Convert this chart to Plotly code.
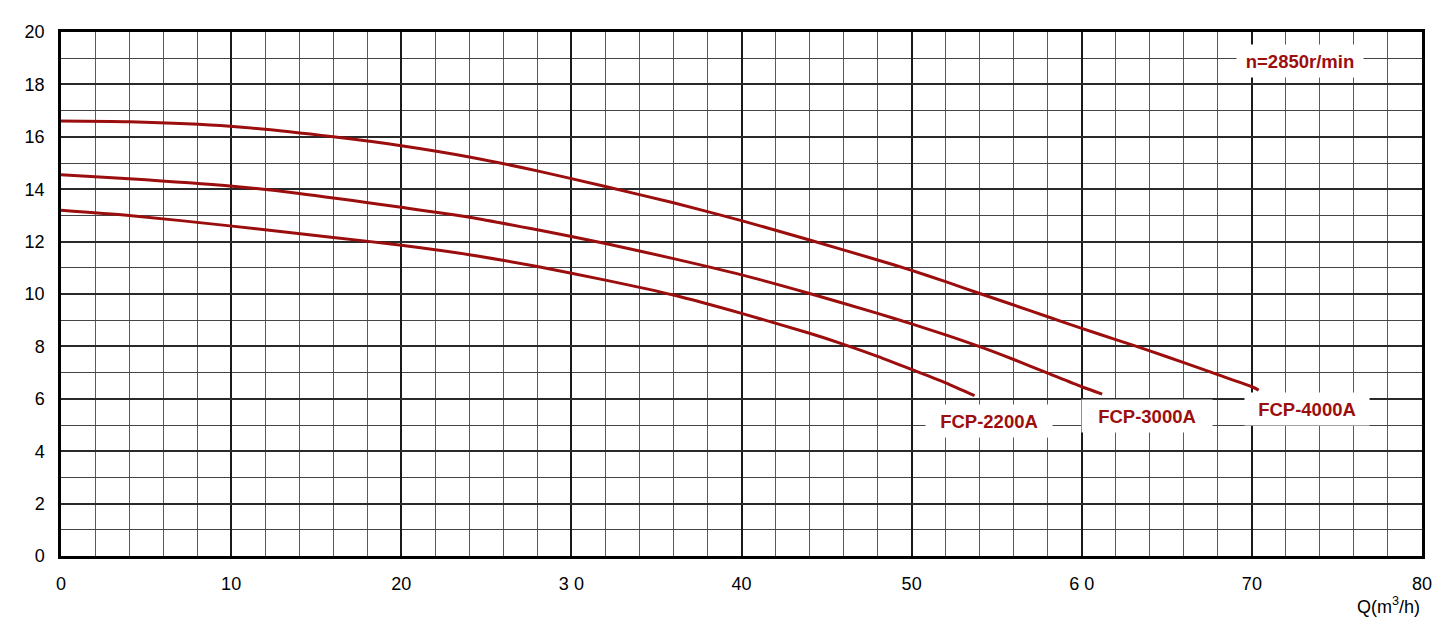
import plotly.graph_objects as go

# Flow Q (m3/h) and head H (m)
q_2200 = [0, 4, 9.93, 16, 20, 24, 28, 32, 36, 40, 44, 46, 48, 50, 52, 53.7]
h_2200 = [13.2, 13.0, 12.6, 12.16, 11.86, 11.5, 11.05, 10.53, 9.96, 9.26, 8.5, 8.08, 7.62, 7.12, 6.61, 6.12]

q_3000 = [0, 4, 9.93, 14, 20, 24, 28, 32, 36, 40, 44, 48, 50, 52, 54, 56, 58, 60, 61.2]
h_3000 = [14.55, 14.4, 14.12, 13.84, 13.31, 12.93, 12.45, 11.93, 11.35, 10.73, 10.02, 9.26, 8.86, 8.44, 7.99, 7.5, 6.98, 6.46, 6.18]

q_4000 = [0, 4, 9.93, 16, 20, 24, 28, 32, 36, 40, 44, 48, 50, 52, 54, 56, 58, 60, 62, 64, 66, 68, 70, 70.4]
h_4000 = [16.6, 16.57, 16.4, 16.0, 15.66, 15.23, 14.7, 14.1, 13.48, 12.8, 12.06, 11.3, 10.9, 10.47, 10.02, 9.58, 9.13, 8.69, 8.26, 7.83, 7.38, 6.92, 6.46, 6.33]

series_names = ["FCP-2200A", "FCP-3000A", "FCP-4000A"]

x_ticks = [0, 10, 20, 30, 40, 50, 60, 70, 80]
x_tick_text = ["0", "10", "20", "3 0", "40", "50", "6 0", "70", "80"]
y_ticks = [0, 2, 4, 6, 8, 10, 12, 14, 16, 18, 20]

RED = "#9c0e0e"
fig = go.Figure()
for q, h, name in zip([q_2200, q_3000, q_4000], [h_2200, h_3000, h_4000], series_names):
    fig.add_trace(go.Scatter(x=q, y=h, mode="lines", name=name,
                             line=dict(color=RED, width=3, shape="spline", smoothing=0.7),
                             showlegend=False, hoverinfo="skip"))

label_font = dict(family="Liberation Sans, Arial", size=18.5, color=RED)
labels = [
    ("FCP-2200A", 54.55, 5.15, 124),
    ("FCP-3000A", 63.84, 5.34, 128),
    ("FCP-4000A", 73.24, 5.61, 122),
    ("n=2850r/min", 72.83, 18.89, 124),
]
for txt, x, y, w in labels:
    fig.add_annotation(x=x, y=y, xref="x", yref="y", text="<b>%s</b>" % txt,
                       showarrow=False, font=label_font, bgcolor="white",
                       width=w, height=30, borderpad=1, align="center")

fig.add_annotation(x=1.0, y=0, xref="paper", yref="paper", yshift=-36,
                   xanchor="right", yanchor="top", text="Q(m<sup>3</sup>/h)",
                   showarrow=False,
                   font=dict(family="Liberation Sans, Arial", size=18, color="black"))

axis_font = dict(family="Liberation Sans, Arial", size=18, color="black")
fig.update_xaxes(range=[0, 80], tickvals=x_ticks, ticktext=x_tick_text,
                 showgrid=True, gridcolor="#1a1a1a", gridwidth=1.6,
                 minor=dict(dtick=2, showgrid=True, gridcolor="#5a5a5a", gridwidth=1.4),
                 showline=True, linecolor="black", linewidth=2.5, mirror=True,
                 ticks="outside", ticklen=10, tickcolor="rgba(0,0,0,0)",
                 tickfont=axis_font, zeroline=False, fixedrange=True)
fig.update_yaxes(range=[0, 20], tickvals=y_ticks,
                 showgrid=True, gridcolor="#2a2a2a", gridwidth=1.6,
                 minor=dict(dtick=1, showgrid=True, gridcolor="#444444", gridwidth=1.4),
                 showline=True, linecolor="black", linewidth=2.5, mirror=True,
                 ticks="outside", ticklen=10, tickcolor="rgba(0,0,0,0)",
                 tickfont=axis_font, zeroline=False, fixedrange=True)

fig.update_layout(width=1445, height=626, plot_bgcolor="white", paper_bgcolor="white",
                  margin=dict(l=61, r=23, t=32, b=70))
fig.write_html("out.html", config={"displayModeBar": False},
               post_script="document.body.style.margin='0';document.body.style.overflow='hidden';")
